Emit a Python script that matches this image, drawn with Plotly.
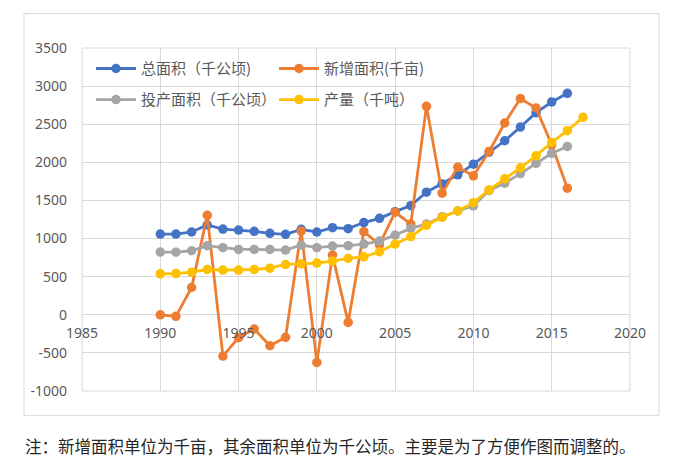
import plotly.graph_objects as go

years = list(range(1990, 2018))

total_area = [1059, 1059, 1086, 1178, 1125, 1112, 1095, 1068, 1055, 1121, 1086, 1143,
              1130, 1210, 1265, 1353, 1432, 1608, 1717, 1836, 1976, 2134, 2283, 2463,
              2652, 2792, 2905]
new_area = [0, -20, 358, 1305, -542, -300, -187, -405, -296, 1099, -625, 783,
            -100, 1090, 920, 1345, 1191, 2735, 1595, 1937, 1823, 2143, 2516, 2836,
            2713, 2230, 1661]
prod_area = [822, 821, 840, 906, 880, 858, 858, 858, 849, 915, 880, 901,
             906, 928, 967, 1046, 1134, 1191, 1287, 1362, 1430, 1630, 1726, 1852,
             1985, 2118, 2208]
output = [537, 541, 559, 594, 586, 586, 594, 612, 660, 669, 678, 704,
          739, 761, 827, 928, 1024, 1174, 1279, 1362, 1471, 1638, 1783, 1928,
          2086, 2261, 2415, 2590]

names = ["总面积（千公顷)", "新增面积(千亩)", "投产面积（千公顷）", "产量（千吨）"]
colors = ["#4472C4", "#ED7D31", "#A5A5A5", "#FFC000"]

x_ticks = [1985, 1990, 1995, 2000, 2005, 2010, 2015, 2020]
y_ticks = [-1000, -500, 0, 500, 1000, 1500, 2000, 2500, 3000, 3500]
y_tick_labels = ["-1000", "-500", "0", "500", "1000", "1500", "2000", "2500", "3000", "3500"]

note = "注：新增面积单位为千亩，其余面积单位为千公顷。主要是为了方便作图而调整的。"

series = [total_area, new_area, prod_area, output]
legends = ["legend", "legend", "legend2", "legend2"]

fig = go.Figure()
for vals, name, col, lg in zip(series, names, colors, legends):
    fig.add_trace(go.Scatter(
        x=years[:len(vals)], y=vals, name=name, mode="lines+markers",
        line=dict(color=col, width=2.8),
        marker=dict(color=col, size=9.5),
        legend=lg,
    ))

# page offset of the figure inside the browser page
OFF = 8
W, H = 674 - OFF, 466 - OFF
# plot area in page pixels
P_L, P_R, P_T, P_B = 82, 630, 48.3, 390.7
ml, mt = P_L - OFF, P_T - OFF
mr, mb = W - (P_R - OFF), H - (P_B - OFF)
pw, ph = P_R - P_L, P_B - P_T

def px_x(p):
    return (p - P_L) / pw

def px_y(p):
    return (P_B - p) / ph

y_min, y_max = -1000, 3500
legend_font = dict(family="Noto Sans CJK SC", size=15, color="#595959")
legend_common = dict(orientation="h", xanchor="left", yanchor="middle",
                     itemwidth=40, entrywidth=128, font=legend_font,
                     bgcolor="rgba(0,0,0,0)")

fig.update_layout(
    width=W, height=H,
    margin=dict(l=ml, r=mr, t=mt, b=mb, autoexpand=False),
    paper_bgcolor="white", plot_bgcolor="white",
    showlegend=True,
    legend=dict(x=px_x(91), y=px_y(69), **legend_common),
    legend2=dict(x=px_x(91), y=px_y(100), **legend_common),
    xaxis=dict(range=[1985, 2020], tickvals=x_ticks, showgrid=True, gridcolor="#d9d9d9",
               gridwidth=1, zeroline=False, showline=False, anchor="free",
               position=(0 - y_min) / (y_max - y_min), ticks="", ticklabelstandoff=8,
               tickfont=dict(family="Noto Sans", size=14, color="#595959")),
    yaxis=dict(range=[y_min, y_max], tickvals=y_ticks, ticktext=y_tick_labels,
               showgrid=True, gridcolor="#d9d9d9", gridwidth=1,
               zeroline=True, zerolinecolor="#d9d9d9", zerolinewidth=1,
               showline=False, ticks="", ticklabelstandoff=14,
               tickfont=dict(family="Noto Sans", size=14, color="#595959")),
    shapes=[
        dict(type="rect", xref="paper", yref="paper", x0=0, x1=1, y0=0, y1=1,
             line=dict(color="#d9d9d9", width=1), layer="below"),
        dict(type="rect", xref="paper", yref="paper", x0=px_x(24), x1=px_x(659),
             y0=px_y(415), y1=px_y(14), line=dict(color="#d9d9d9", width=1), layer="below"),
    ],
    annotations=[
        dict(text=note, xref="paper", yref="paper", x=px_x(23), y=px_y(446),
             xanchor="left", yanchor="middle", showarrow=False,
             font=dict(family="Noto Sans CJK SC", size=16.5, color="#262626")),
    ],
)

fig.write_html("out.html")
